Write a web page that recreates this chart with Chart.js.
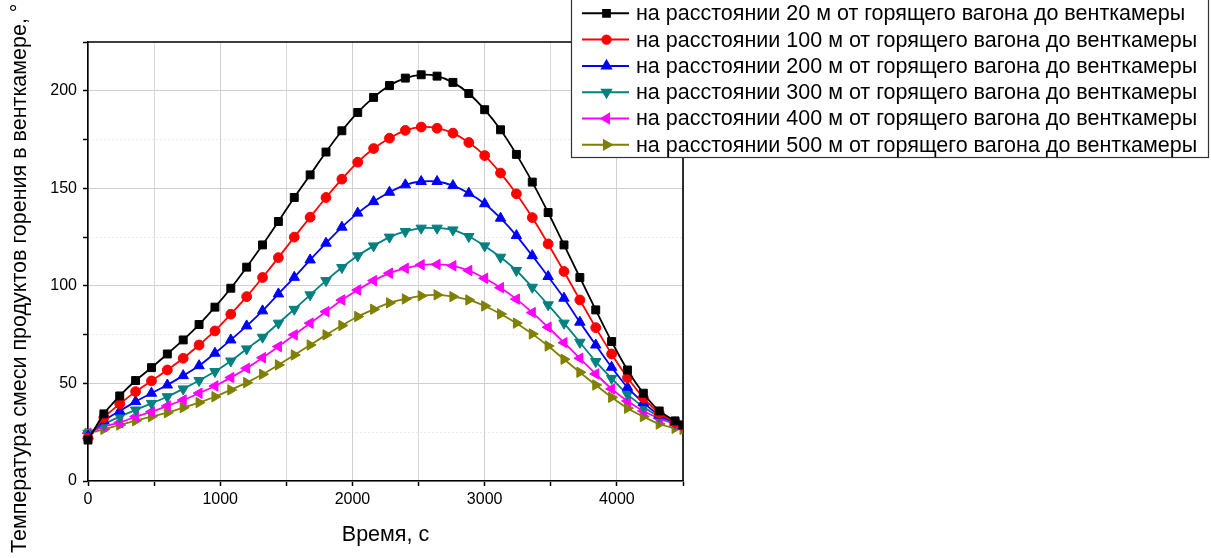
<!DOCTYPE html>
<html>
<head>
<meta charset="utf-8">
<script src="https://cdn.jsdelivr.net/npm/chart.js@4/dist/chart.umd.min.js"></script>
<style>
  html, body { margin: 0; padding: 0; background: #fff; }
  #wrap { width: 1211px; height: 558px; position: relative; }
</style>
</head>
<body>
<div id="wrap"><canvas id="c" width="1211" height="558"></canvas></div>
<script>
// Time, s
const times = [0, 120, 240, 360, 480, 600, 720, 840, 960, 1080, 1200, 1320, 1440, 1560, 1680,
  1800, 1920, 2040, 2160, 2280, 2400, 2520, 2640, 2760, 2880, 3000, 3120, 3240, 3360, 3480,
  3600, 3720, 3840, 3960, 4080, 4200, 4320, 4440, 4500];

// Temperature of the combustion-products mix in the fan chamber, by distance from the burning car
const t20m = [21, 34.4, 43.6, 51.5, 58.1, 65.1, 72.3, 80.2, 89.1, 98.8, 109.6, 121, 133, 145.3, 156.9,
  168.6, 179.5, 188.9, 196.6, 202.7, 206.5, 208.2, 207.5, 204.3, 198.6, 190.3, 180, 167.4, 153.2, 137.6,
  121, 104.3, 87.7, 71.5, 56.9, 45, 35.9, 30.8, 28.7];
const t100m = [22, 32.5, 39.5, 45.8, 51.3, 56.9, 62.9, 69.7, 76.9, 85.5, 94.5, 104.3, 114.5, 125, 135.2,
  145.3, 154.7, 163.4, 170.4, 175.7, 179.7, 181.4, 180.8, 178.3, 173.5, 166.8, 157.8, 147.2, 135, 121.5,
  107.4, 92.8, 78.6, 65.1, 53, 42.7, 34.7, 30.1, 28.4];
const t200m = [23, 30.9, 35.9, 40.7, 45, 49.2, 54, 59.1, 65.5, 72.3, 79.5, 87.2, 95.9, 104.4, 113.3,
  121.9, 130.1, 137.3, 143.2, 148, 151.8, 153.5, 153.5, 151.4, 147.5, 142.1, 134.7, 125.8, 115.5, 104.8,
  93.7, 81.4, 69.7, 58.3, 48, 40.2, 33.8, 29.9, 28.2];
const t300m = [24.5, 29.1, 33, 36.4, 39.8, 43.2, 47.2, 51.5, 56.1, 61.5, 67.7, 73.7, 80.9, 88, 95.4,
  102.7, 109.4, 115.4, 120.5, 125, 127.9, 129.6, 129.6, 128.7, 125.3, 120.5, 114.7, 107.9, 99.3, 90.3,
  80.9, 71.1, 61.2, 52.6, 44.4, 38.1, 33, 29.6, 28];
const t400m = [24.5, 27.9, 29.9, 33, 35.5, 38.5, 41.5, 45, 48.7, 53, 57.8, 63.2, 68.9, 74.9, 80.9,
  86.8, 92.8, 97.9, 102.7, 106.5, 109, 110.8, 111, 110.3, 107.9, 103.9, 99.1, 93.2, 86.3, 78.8,
  70.9, 62.9, 54.9, 47.2, 41, 35.9, 32.1, 29.2, 27.8];
const t500m = [24.5, 26.5, 28.7, 30.9, 33, 35, 37.6, 40.2, 43.2, 46.7, 50.4, 54.7, 59.5, 64.6, 69.7,
  74.9, 79.7, 84.3, 88, 91.3, 93.3, 94.9, 95.4, 94.5, 92.8, 89.7, 85.6, 80.9, 75.4, 69.2,
  62.4, 55.7, 49.2, 42.9, 37.3, 33, 29.2, 27, 26.5];

const seriesLabels = [
  'на расстоянии 20 м от горящего вагона до венткамеры',
  'на расстоянии 100 м от горящего вагона до венткамеры',
  'на расстоянии 200 м от горящего вагона до венткамеры',
  'на расстоянии 300 м от горящего вагона до венткамеры',
  'на расстоянии 400 м от горящего вагона до венткамеры',
  'на расстоянии 500 м от горящего вагона до венткамеры'
];
const seriesValues = [t20m, t100m, t200m, t300m, t400m, t500m];
const seriesColors = ['#000000', '#ff0000', '#0000ff', '#008080', '#ff00ff', '#808000'];
const seriesStyles = ['rect', 'circle', 'triangle', 'triangle', 'triangle', 'triangle'];
const seriesRotations = [0, 0, 0, 180, 270, 90];
const seriesRadii = [5.6, 4.9, 6, 6, 6, 6];

const xTitle = 'Время, с';
const yTitle = 'Температура смеси продуктов горения в венткамере, °';

const FONT = "'Liberation Sans', Arial, sans-serif";
const TEXT_SIZE = 21.5;

const datasets = seriesValues.map((vals, s) => ({
  label: seriesLabels[s],
  data: times.map((t, i) => ({ x: t, y: vals[i] })),
  borderColor: seriesColors[s],
  backgroundColor: seriesColors[s],
  pointBackgroundColor: seriesColors[s],
  pointBorderColor: seriesColors[s],
  pointBorderWidth: 1,
  pointStyle: seriesStyles[s],
  pointRotation: seriesRotations[s],
  pointRadius: seriesRadii[s],
  borderWidth: 1.8,
  tension: 0.2,
  clip: { left: 10, top: 10, right: 0, bottom: 10 }
}));

// Frame: top and right edges of the plot box
const framePlugin = {
  id: 'frame',
  beforeDatasetsDraw(chart) {
    const { ctx, chartArea: a } = chart;
    ctx.save();
    ctx.strokeStyle = '#000';
    ctx.lineWidth = 1.6;
    ctx.beginPath();
    ctx.moveTo(a.left, a.top);
    ctx.lineTo(a.right, a.top);
    ctx.lineTo(a.right, a.bottom);
    ctx.stroke();
    ctx.restore();
  }
};

// Rotated y-axis title
const yTitlePlugin = {
  id: 'yTitle',
  afterDraw(chart) {
    const ctx = chart.ctx;
    ctx.save();
    ctx.translate(20.5, 553);
    ctx.rotate(-Math.PI / 2);
    ctx.font = TEXT_SIZE + 'px ' + FONT;
    ctx.fillStyle = '#000';
    ctx.textAlign = 'left';
    ctx.textBaseline = 'middle';
    ctx.fillText(yTitle, 0, 0);
    ctx.restore();
  }
};

// Boxed legend at the upper right
const boxLegendPlugin = {
  id: 'boxLegend',
  afterDraw(chart) {
    const ctx = chart.ctx;
    const boxL = 571, boxR = 1208, boxT = -12, boxB = 157;
    ctx.save();
    ctx.fillStyle = '#fff';
    ctx.fillRect(boxL, boxT, boxR - boxL, boxB - boxT);
    ctx.strokeStyle = '#333';
    ctx.lineWidth = 1.2;
    ctx.strokeRect(boxL + 0.5, boxT + 0.5, boxR - boxL, boxB - boxT);
    chart.data.datasets.forEach((ds, i) => {
      const y = 13.3 + i * 26.3;
      ctx.strokeStyle = ds.borderColor;
      ctx.lineWidth = 2;
      ctx.beginPath();
      ctx.moveTo(582, y);
      ctx.lineTo(629, y);
      ctx.stroke();
      ctx.fillStyle = ds.borderColor;
      Chart.helpers.drawPoint(ctx, {
        pointStyle: ds.pointStyle,
        rotation: ds.pointRotation,
        radius: ds.pointRadius * 0.85,
        borderWidth: 1
      }, 606.5, y);
      ctx.fillStyle = '#000';
      ctx.font = TEXT_SIZE + 'px ' + FONT;
      ctx.textAlign = 'left';
      ctx.textBaseline = 'middle';
      ctx.fillText(ds.label, 636, y + 1);
    });
    ctx.restore();
  }
};

const gridDash = (ctx) => (ctx.tick && ctx.tick.value % 50 !== 0 ? [1, 3] : []);

new Chart(document.getElementById('c'), {
  type: 'line',
  data: { datasets },
  plugins: [framePlugin, yTitlePlugin, boxLegendPlugin],
  options: {
    responsive: false,
    animation: false,
    layout: { padding: { left: 0, top: 42, right: 528, bottom: 0 } },
    plugins: { legend: { display: false }, tooltip: { enabled: false } },
    scales: {
      x: {
        type: 'linear',
        min: 0,
        max: 4500,
        afterFit(scale) { scale.height = 77; },
        ticks: {
          stepSize: 500,
          autoSkip: false,
          maxRotation: 0,
          padding: 4,
          color: '#000',
          font: { size: 16, family: FONT },
          callback: (v) => (v % 1000 === 0 ? String(v) : '')
        },
        grid: {
          color: (ctx) => (ctx.tick && ctx.tick.value % 1000 === 0 ? '#d0d0d0' : '#d8d8d8'),
          lineWidth: 1,
          tickColor: '#000',
          tickLength: 5,
          tickWidth: 1.5
        },
        border: { color: '#000', width: 1.6, dash: gridDash },
        title: {
          display: true,
          text: xTitle,
          color: '#000',
          font: { size: TEXT_SIZE, family: FONT },
          padding: { top: 0, bottom: 10 }
        }
      },
      y: {
        type: 'linear',
        min: 0,
        max: 225,
        afterFit(scale) { scale.width = 88; },
        ticks: {
          stepSize: 25,
          autoSkip: false,
          padding: 6,
          color: '#000',
          font: { size: 16, family: FONT },
          callback: (v) => (v % 50 === 0 ? String(v) : '')
        },
        grid: {
          color: (ctx) => (ctx.tick && ctx.tick.value % 50 === 0 ? '#d0d0d0' : '#d8d8d8'),
          lineWidth: 1,
          tickColor: '#000',
          tickLength: 5,
          tickWidth: 1.5
        },
        border: { color: '#000', width: 1.6, dash: gridDash }
      }
    }
  }
});
</script>
</body>
</html>
